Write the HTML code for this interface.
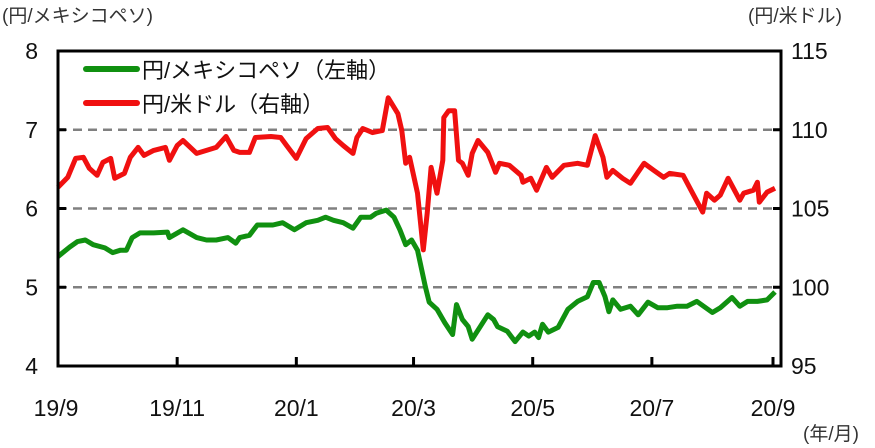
<!DOCTYPE html>
<html><head><meta charset="utf-8"><style>
body{margin:0;background:#fff;}
svg{display:block;font-family:"Liberation Sans","Noto Sans CJK JP",sans-serif;}
</style></head><body>
<svg id="chart" width="875" height="448" viewBox="0 0 875 448">
<g id="grid"></g>
<g id="series"></g>
<rect x="58" y="51" width="723" height="315" fill="none" stroke="#000" stroke-width="3"/>
<g id="axes"></g>
<text x="2" y="22" font-size="19" fill="#333">(円/メキシコペソ)</text>
<text x="748" y="22" font-size="19" fill="#333">(円/米ドル)</text>
<text x="803" y="440" font-size="19" fill="#333">(年/月)</text>
<g>
<line x1="86" y1="69" x2="137" y2="69" stroke="#109010" stroke-width="6" stroke-linecap="round"/>
<text x="142" y="78" font-size="22" fill="#111">円/メキシコペソ（左軸）</text>
<line x1="86" y1="103" x2="137" y2="103" stroke="#f01010" stroke-width="6" stroke-linecap="round"/>
<text x="142" y="112" font-size="22" fill="#111">円/米ドル（右軸）</text>
</g>
</svg>
<script>
const leftTicks=[4,5,6,7,8];
const rightTicks=[95,100,105,110,115];
const xTickDays=[0,61,122,182,243,304,366];
const xTickLabels=["19/9","19/11","20/1","20/3","20/5","20/7","20/9"];
const mxnDays=[0,6,10,14,18,24,28,32,35,38,42,49,56,57,64,71,76,81,87,91,93,98,102,110,115,121,127,133,137,141,146,151,155,160,163,168,172,175,178,181,184,188,190,194,198,202,204,207,210,212,220,223,225,230,234,238,241,244,246,248,251,256,261,266,271,274,277,280,282,284,288,293,297,302,307,312,317,322,327,335,339,345,349,353,358,363,367];
const mxnValues=[5.39,5.51,5.58,5.60,5.54,5.50,5.44,5.47,5.47,5.63,5.69,5.69,5.70,5.63,5.73,5.63,5.60,5.60,5.63,5.56,5.63,5.66,5.79,5.79,5.82,5.73,5.82,5.85,5.89,5.85,5.82,5.75,5.89,5.89,5.94,5.98,5.89,5.73,5.54,5.60,5.47,5.01,4.81,4.72,4.55,4.40,4.78,4.59,4.50,4.34,4.65,4.59,4.50,4.44,4.31,4.43,4.38,4.43,4.36,4.53,4.43,4.49,4.72,4.82,4.88,5.06,5.06,4.88,4.69,4.84,4.72,4.76,4.65,4.81,4.74,4.74,4.76,4.76,4.82,4.68,4.74,4.87,4.76,4.82,4.82,4.84,4.94];
const usdDays=[0,5,9,13,16,20,23,27,29,34,37,41,44,49,55,57,61,64,71,76,81,86,90,93,98,101,109,114,117,122,127,133,138,142,146,151,153,156,161,166,169,174,176,178,180,184,187,189,191,194,197,197.5,200,203,205,207,210,212,215,220,224,226,231,237,238,242,245,250,253,259,266,271,275,279,281,284,289,293,300,305,310,313,320,324,330,332,336,339,343,349,351,356,358,359,363,367];
const usdValues=[106.35,106.99,108.18,108.25,107.55,107.11,107.93,108.18,106.92,107.23,108.25,108.88,108.37,108.69,108.88,108.06,109.0,109.32,108.5,108.69,108.88,109.57,108.69,108.56,108.56,109.51,109.57,109.51,109.0,108.18,109.44,110.08,110.14,109.44,109.0,108.5,109.51,110.08,109.82,109.95,112.03,111.02,109.95,107.87,108.25,105.97,102.37,104.71,107.61,105.97,108.06,110.77,111.21,111.21,108.06,107.87,107.11,108.5,109.32,108.56,107.3,107.87,107.74,107.11,106.67,106.92,106.16,107.61,106.98,107.74,107.87,107.74,109.63,108.25,106.98,107.42,106.92,106.6,107.87,107.42,106.98,107.23,107.11,106.16,104.77,105.97,105.53,105.85,106.92,105.53,105.97,106.16,106.67,105.4,106.04,106.29];

const NS="http://www.w3.org/2000/svg";
const X0=58,X1=773,YT=51,YB=366;
const xScale=d=>X0+(X1-X0)*d/366;
const yLeft=v=>YB-(v-4)/4*(YB-YT);
const yRight=v=>YB-(v-95)/20*(YB-YT);
function mk(tag,attrs,parent){const e=document.createElementNS(NS,tag);for(const k in attrs)e.setAttribute(k,attrs[k]);parent.appendChild(e);return e;}
const grid=document.getElementById('grid'),axes=document.getElementById('axes'),series=document.getElementById('series');
leftTicks.forEach((v,i)=>{
  const y=yLeft(v);
  if(v>4&&v<8){const g=mk('line',{x1:X0,x2:781,y1:y,y2:y,stroke:'#808080','stroke-width':2.5,'stroke-dasharray':'9 6'},grid);
  
  }
  const tk=mk('line',{x1:X0,x2:X0+8,y1:y,y2:y,stroke:'#000','stroke-width':3},axes);
  
  
  const t=mk('text',{x:38,y:y+8,'font-size':23,'text-anchor':'end',fill:'#111'},axes);t.textContent=v;
  
  
});
rightTicks.forEach(v=>{
  const y=yRight(v);
  const tk=mk('line',{x1:773,x2:781,y1:y,y2:y,stroke:'#000','stroke-width':3},axes);
  
  
  const t=mk('text',{x:791,y:y+8,'font-size':23,fill:'#111'},axes);t.textContent=v;
  
  
});
xTickDays.forEach((d,i)=>{
  const x=xScale(d);
  const tk=mk('line',{x1:x,x2:x,y1:YB,y2:YB-9,stroke:'#000','stroke-width':3},axes);
  
  
  const t=mk('text',{x:i===0?x-2:x,y:416,'font-size':23,'text-anchor':'middle',fill:'#111'},axes);t.textContent=xTickLabels[i];
  
  
});
function path(days,vals,sc){return days.map((d,i)=>(i?'L':'M')+xScale(d).toFixed(1)+' '+sc(vals[i]).toFixed(1)).join(' ');}
const pm=mk('path',{d:path(mxnDays,mxnValues,yLeft),fill:'none',stroke:'#109010','stroke-width':5,'stroke-linejoin':'round'},series);


const pu=mk('path',{d:path(usdDays,usdValues,yRight),fill:'none',stroke:'#f01010','stroke-width':5,'stroke-linejoin':'round'},series);


</script>
</body></html>
